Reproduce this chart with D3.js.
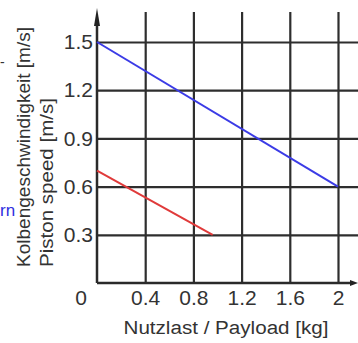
<!DOCTYPE html>
<html>
<head>
<meta charset="utf-8">
<script src="https://cdn.jsdelivr.net/npm/d3@7"></script>
<style>
  html, body { margin: 0; padding: 0; background: #fff; }
  svg { display: block; }
  text { font-family: "Liberation Sans", Arial, sans-serif; fill: #333; }
</style>
</head>
<body>
<svg id="chart" width="358" height="343"></svg>
<script>
// Payload (kg) vs. piston speed (m/s)
const xTicks = [0.4, 0.8, 1.2, 1.6, 2];
const yTicks = [0.3, 0.6, 0.9, 1.2, 1.5];
const xTickLabels = ["0.4", "0.8", "1.2", "1.6", "2"];
const yTickLabels = ["0.3", "0.6", "0.9", "1.2", "1.5"];

const bluePayload = [0, 2];
const blueSpeed = [1.5, 0.6];
const redPayload = [0, 0.96];
const redSpeed = [0.7, 0.3];

const svg = d3.select("#chart");
const x0 = 97, x1 = 338, y0 = 283, y1 = 42;
const gridTop = 12, gridRight = 358;

const x = d3.scaleLinear().domain([0, 2]).range([x0, x1]);
const y = d3.scaleLinear().domain([0, 1.5]).range([y0, y1]);

const gridColor = "#2e2e2e";

// vertical grid lines + x tick labels
const xAxis = d3.axisBottom(x)
  .tickValues(xTicks)
  .tickSize(-(y0 - gridTop))
  .tickPadding(7)
  .tickFormat((d, i) => xTickLabels[i]);
const gx = svg.append("g").attr("transform", `translate(0,${y0})`).call(xAxis);
gx.select(".domain").remove();
gx.selectAll(".tick line").attr("stroke", gridColor).attr("stroke-width", 2.2);
gx.selectAll(".tick text").attr("font-size", 21).attr("fill", "#333")
  .style("font-family", '"Liberation Sans", Arial, sans-serif');

// horizontal grid lines + y tick labels
const yAxis = d3.axisLeft(y)
  .tickValues(yTicks)
  .tickSize(-(gridRight - x0))
  .tickPadding(4)
  .tickFormat((d, i) => yTickLabels[i]);
const gy = svg.append("g").attr("transform", `translate(${x0},0)`).call(yAxis);
gy.select(".domain").remove();
gy.selectAll(".tick line").attr("stroke", gridColor).attr("stroke-width", 2.2);
gy.selectAll(".tick text").attr("font-size", 21).attr("fill", "#333")
  .style("font-family", '"Liberation Sans", Arial, sans-serif');

// shared origin label
svg.append("text").attr("x", x(0) - 16).attr("y", y(0) + 22)
  .attr("text-anchor", "middle").attr("font-size", 21).text("0");

// axis lines with arrowheads
svg.append("line").attr("x1", x0).attr("x2", 350).attr("y1", y0).attr("y2", y0)
  .attr("stroke", "#2a2a2a").attr("stroke-width", 2.5);
svg.append("path").attr("d", `M350,${y0 - 3}L358,${y0}L350,${y0 + 3}Z`).attr("fill", "#222");
svg.append("line").attr("x1", x0).attr("x2", x0).attr("y1", y0).attr("y2", 24)
  .attr("stroke", "#2a2a2a").attr("stroke-width", 2.5);
svg.append("path").attr("d", `M${x0 - 3},26L${x0},8L${x0 + 3},26Z`).attr("fill", "#222");

// series lines
const line = d3.line().x(d => x(d[0])).y(d => y(d[1]));
svg.append("path").datum(d3.zip(bluePayload, blueSpeed)).attr("d", line)
  .attr("fill", "none").attr("stroke", "#3b3be6").attr("stroke-width", 2);
svg.append("path").datum(d3.zip(redPayload, redSpeed)).attr("d", line)
  .attr("fill", "none").attr("stroke", "#e03a3a").attr("stroke-width", 2);

// axis titles
svg.append("text").attr("x", 226).attr("y", 334).attr("text-anchor", "middle")
  .attr("font-size", 18).attr("textLength", 205).attr("lengthAdjust", "spacingAndGlyphs")
  .text("Nutzlast / Payload [kg]");
svg.append("text").attr("transform", "translate(30,267) rotate(-90)")
  .attr("font-size", 18).attr("textLength", 240).attr("lengthAdjust", "spacingAndGlyphs")
  .text("Kolbengeschwindigkeit [m/s]");
svg.append("text").attr("transform", "translate(53,267) rotate(-90)")
  .attr("font-size", 18).attr("textLength", 169).attr("lengthAdjust", "spacingAndGlyphs")
  .text("Piston speed [m/s]");

// small fragments along the left edge
svg.append("text").attr("x", 0).attr("y", 216).attr("text-anchor", "start")
  .attr("font-size", 17).style("fill", "#2f2fe0").text("rn");
svg.append("text").attr("x", 0).attr("y", 67).attr("text-anchor", "start")
  .attr("font-size", 14).text("-");
</script>
</body>
</html>
